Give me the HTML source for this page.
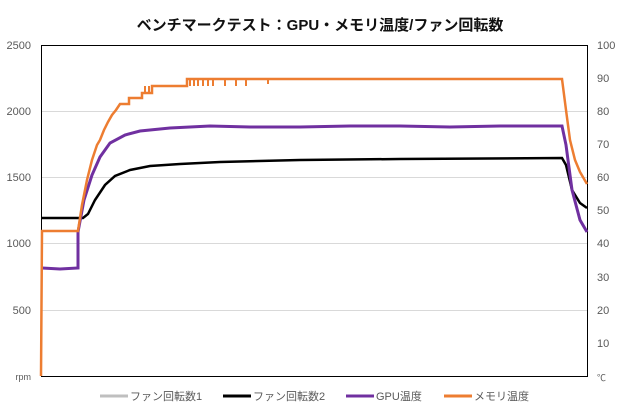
<!DOCTYPE html>
<html><head><meta charset="utf-8"><style>
body{margin:0;background:#fff;}
svg{display:block;font-family:"Liberation Sans","Noto Sans CJK JP",sans-serif;}
</style></head><body>
<svg width="620" height="410" viewBox="0 0 620 410">
<rect width="620" height="410" fill="#fff"/>
<text x="320" y="30" text-anchor="middle" font-size="15" font-weight="bold" fill="#111">ベンチマークテスト：GPU・メモリ温度/ファン回転数</text>
<g stroke="#d9d9d9" stroke-width="1">
<line x1="41" y1="111.5" x2="587" y2="111.5"/>
<line x1="41" y1="177.5" x2="587" y2="177.5"/>
<line x1="41" y1="243.5" x2="587" y2="243.5"/>
<line x1="41" y1="310.5" x2="587" y2="310.5"/>
</g>
<rect x="41.5" y="45.5" width="546" height="331" fill="none" stroke="#000" stroke-width="1"/>
<g font-size="11" fill="#595959" text-anchor="end">
<text x="31" y="49">2500</text><text x="31" y="115">2000</text><text x="31" y="181">1500</text><text x="31" y="247">1000</text><text x="31" y="314">500</text><text x="31" y="380" font-size="9">rpm</text>
</g>
<g font-size="11" fill="#595959" text-anchor="start">
<text x="597" y="49">100</text><text x="597" y="82">90</text><text x="597" y="115">80</text><text x="597" y="148">70</text><text x="597" y="181">60</text><text x="597" y="214">50</text><text x="597" y="247">40</text><text x="597" y="281">30</text><text x="597" y="314">20</text><text x="597" y="347">10</text><text x="597" y="381" font-size="9">℃</text>
</g>
<polyline fill="none" stroke="#000" stroke-width="2.5" points="42,218 83,218 88,214 95,200 105,185 115,176 130,170 150,166 180,164 220,162 300,160 400,159 562,158 566,165 572,190 580,203 587,208"/>
<polyline fill="none" stroke="#7030a0" stroke-width="3" points="42,268 60,269 78,268 78,232 84,200 92,175 100,157 110,143 125,135 140,131 170,128 210,126 250,127 300,127 350,126 400,126 450,127 500,126 562,126 566,145 572,190 580,220 587,232"/>
<polyline fill="none" stroke="#ed7d31" stroke-width="2.5" points="41,376 42,231 78,231 82,205 87,180 92,160 97,145 100,140 104,130 108,122 112,115 116,110 120,104 129,104 129,98 142,98 142,93 152,93 152,86 187,86 187,79 562,79 566,110 570,140 575,160 580,172 587,184"/>
<g stroke="#ed7d31" stroke-width="2">
<line x1="145" y1="86" x2="145" y2="93"/><line x1="149" y1="86" x2="149" y2="93"/>
<line x1="190" y1="79" x2="190" y2="86"/><line x1="194" y1="79" x2="194" y2="86"/><line x1="198" y1="79" x2="198" y2="86"/><line x1="203" y1="79" x2="203" y2="86"/><line x1="208" y1="79" x2="208" y2="86"/><line x1="213" y1="79" x2="213" y2="86"/><line x1="225" y1="79" x2="225" y2="86"/><line x1="236" y1="79" x2="236" y2="86"/><line x1="246" y1="79" x2="246" y2="86"/><line x1="268" y1="79" x2="268" y2="84"/>
</g>
<g font-size="11" fill="#595959">
<line x1="100" y1="396" x2="128" y2="396" stroke="#bfbfbf" stroke-width="3"/><text x="130" y="400">ファン回転数1</text>
<line x1="223" y1="396" x2="251" y2="396" stroke="#000" stroke-width="3"/><text x="253" y="400">ファン回転数2</text>
<line x1="346" y1="396" x2="374" y2="396" stroke="#7030a0" stroke-width="3"/><text x="376" y="400">GPU温度</text>
<line x1="444" y1="396" x2="472" y2="396" stroke="#ed7d31" stroke-width="3"/><text x="474" y="400">メモリ温度</text>
</g>
</svg>
</body></html>
